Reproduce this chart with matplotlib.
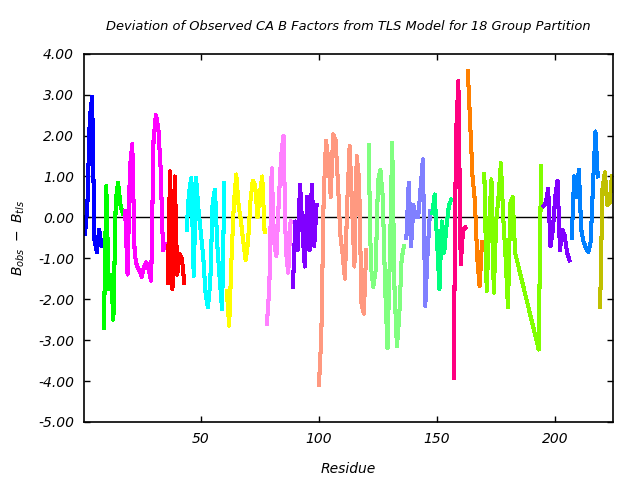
import matplotlib

matplotlib.use("Agg")
import matplotlib.pyplot as plt

# per-group residue start and deviation values (B_obs - B_tls)
g01_start, g01 = 1, [-0.4, 0.3, 2.4, 2.95, -0.55, -0.85, -0.3, -0.7]
g02_start, g02 = 9, [-2.7, 0.77, -1.76, -1.4, -2.5, 0.4, 0.85, 0.3, 0.1]
g03_start, g03 = 18, [0.15, -1.4, 1.2, 1.8, -0.9, -1.2, -1.3, -1.45, -1.2, -1.1, -1.3, -1.55,
                      1.9, 2.5, 2.2, 1.2, -0.8, -0.65]
g04_start, g04 = 36, [-1.6, 1.13, -1.76, 1.0, -1.4, -0.9, -1.0, -1.6]
g05_start, g05 = 44, [-0.3, 0.6, 0.97, -1.43, 0.97, 0.2, -0.37, -0.95, -1.84, -2.2, -1.6, 0.36,
                      0.68, -0.7, -1.5, -2.25, 0.85]
g06_start, g06 = 61, [-1.8, -2.65, -1.0, 0.35, 1.05, 0.3, -0.1, -0.6, -1.05, -0.6, 0.4, 0.9,
                      0.8, 0.0, 0.6, 1.0, -0.35]
g07_start, g07 = 78, [-2.6, -1.7, 1.2, -0.6, -0.95, 0.4, 1.5, 2.0, -0.8, -1.35, -0.1]
g08_start, g08 = 89, [-1.7, -0.1, -0.8, 0.8, -0.3, -1.2, 0.5, -0.8, 0.8, -0.7, 0.3]
g09_start, g09 = 100, [-4.1, -2.9, 0.5, 1.87, 1.4, 0.5, 2.03, 1.9, 0.9, -0.4, -0.9, -1.5, 0.4,
                       1.75, 0.3, -1.2, 1.5, 0.9, -2.1, -2.35, -0.8]
g10_start, g10 = 121, [1.78, -1.2, -1.7, -1.3, 0.9, 1.17, 0.5, -1.7, -3.2, -1.0, 1.83, -1.8,
                       -3.15, -2.4, -1.0, -0.7]
g11_start, g11 = 137, [-0.5, 0.85, -0.7, 0.3, 0.0, 0.0, 0.7, 1.42, -2.17, -0.85, 0.15]
g12_start, g12 = 148, [0.1, 0.56, -0.6, -1.76, -0.1, -0.86, -0.2, 0.28, 0.44]
g13_start, g13 = 157, [-3.92, 2.0, 3.33, -1.15, -0.3, -0.25]
g14_start, g14 = 163, [3.58, 2.3, 1.0, 0.4, -1.0, -1.68, -0.6]
# group 15 has a gap in residue numbering (184-192 missing)
g15_res = [170, 171, 172, 173, 174, 175, 176, 177, 178, 179, 180, 181, 182, 183, 193, 194]
g15 = [1.05, -1.8, -0.2, 0.93, -1.84, -0.1, 0.5, 1.33, 0.0, -1.0, -2.2, 0.35, 0.5, -0.86,
       -3.23, 1.25]
g16_start, g16 = 195, [0.28, 0.35, 0.7, -0.7, -0.3, 0.5, 0.9, -0.8, -0.3, -0.45, -0.85, -1.05]
g17_start, g17 = 207, [-0.5, 1.0, 0.5, 1.17, -0.3, -0.6, -0.75, -0.85, -0.6, 0.8, 2.1, 1.0]
g18_start, g18 = 219, [-2.2, 0.7, 1.1, 0.3, 0.36, 1.0]

colors = ["#0000ff", "#00ff00", "#ff00ff", "#ff0000", "#00ffff", "#ffff00", "#ff80ff",
          "#8000ff", "#ff9980", "#80ff80", "#8080ff", "#00ff80", "#ff0080", "#ff8000",
          "#80ff00", "#8000ff", "#0080ff", "#c0c000"]

y_ticks = [-5, -4, -3, -2, -1, 0, 1, 2, 3, 4]
x_ticks = [50, 100, 150, 200]


def span(start, vals):
    return list(range(start, start + len(vals))), vals


groups = [
    span(g01_start, g01), span(g02_start, g02), span(g03_start, g03), span(g04_start, g04),
    span(g05_start, g05), span(g06_start, g06), span(g07_start, g07), span(g08_start, g08),
    span(g09_start, g09), span(g10_start, g10), span(g11_start, g11), span(g12_start, g12),
    span(g13_start, g13), span(g14_start, g14), (g15_res, g15), span(g16_start, g16),
    span(g17_start, g17), span(g18_start, g18),
]

plt.rcParams["font.family"] = "DejaVu Sans"
plt.rcParams["font.style"] = "italic"
plt.rcParams["mathtext.fontset"] = "dejavusans"
plt.rcParams["axes.unicode_minus"] = False

fig = plt.figure(figsize=(6.4, 4.8), dpi=100)
ax = fig.add_axes([0.131, 0.121, 0.827, 0.767])

ax.axhline(0, color="black", lw=1.0, zorder=1)
for (res, vals), c in zip(groups, colors):
    ax.plot(res, vals, color=c, lw=2.2, antialiased=False, zorder=2)

ax.set_xlim(0.5, 224.5)
ax.set_ylim(-5, 4)
ax.set_xticks(x_ticks)
ax.set_yticks(y_ticks)
ax.set_yticklabels([f"{v:.2f}" for v in y_ticks])
ax.tick_params(direction="in", top=True, right=True, length=4, width=1,
               labelsize=10, pad=7)
for s in ax.spines.values():
    s.set_linewidth(1.2)

ax.set_title("Deviation of Observed CA B Factors from TLS Model for 18 Group Partition",
             fontsize=9.4, pad=17)
ax.set_xlabel("Residue", fontsize=10, labelpad=12)
ax.set_ylabel(r"$B_{obs}\ -\ B_{tls}$", fontsize=10, labelpad=8)

fig.savefig("out.png", dpi=100)
